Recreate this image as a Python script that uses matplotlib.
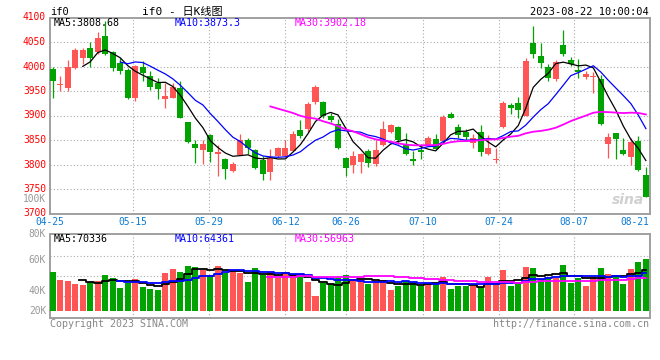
import matplotlib
matplotlib.use('Agg')
import matplotlib.pyplot as plt
import matplotlib.transforms as mtransforms
import numpy as np
import pandas as pd

# ---------------- data ----------------
opens = [3994.2, 3961.6, 3956.8, 3997.6, 4016.7, 4038.4, 4028.9, 4062.2, 4030.3, 4007.1,
         3992.2, 3936.4, 3999.7, 3980.6, 3967.0, 3933.7, 3936.4, 3956.8, 3886.7, 3841.2,
         3829.0, 3860.2, 3820.7, 3811.2, 3786.7, 3819.4, 3850.7, 3830.3, 3808.5, 3785.4,
         3817.3, 3818.0, 3827.6, 3871.1, 3871.8, 3928.2, 3928.2, 3899.7, 3883.3, 3814.0,
         3798.3, 3805.8, 3827.6, 3800.3, 3839.1, 3867.0, 3877.2, 3839.8, 3811.9, 3829.0,
         3839.1, 3852.0, 3848.0, 3903.7, 3877.2, 3867.0, 3843.9, 3867.0, 3822.1, 3808.5,
         3876.5, 3920.7, 3926.2, 3899.0, 4048.6, 4022.1, 3999.0, 3973.8, 4043.9, 4013.3,
         3992.2, 3978.6, 3979.3, 3973.8, 3841.2, 3865.0, 3829.6, 3815.3, 3848.0, 3778.6]
highs = [3999.0, 3980.6, 4012.6, 4038.4, 4037.0, 4050.0, 4071.0, 4092.0, 4031.6, 4018.0,
         3997.6, 4002.4, 4011.2, 3990.8, 3977.2, 3967.0, 3967.0, 3970.4, 3887.0, 3849.3,
         3850.7, 3861.6, 3839.8, 3812.6, 3805.8, 3861.6, 3853.4, 3831.0, 3817.3, 3832.3,
         3836.4, 3850.0, 3868.4, 3890.1, 3928.2, 3961.6, 3929.0, 3905.8, 3892.2, 3814.5,
         3827.6, 3824.2, 3831.0, 3849.3, 3888.8, 3883.3, 3878.6, 3865.0, 3827.6, 3842.5,
         3858.2, 3862.9, 3901.0, 3907.8, 3882.0, 3871.8, 3862.9, 3880.6, 3860.2, 3834.4,
         3929.6, 3924.8, 3938.4, 4018.0, 4083.3, 4048.6, 4004.4, 4012.6, 4073.8, 4019.4,
         4015.3, 3990.8, 3988.8, 3982.7, 3865.0, 3865.0, 3854.8, 3854.8, 3858.2, 3795.0]
lows = [3935.0, 3950.0, 3950.0, 3995.0, 4004.4, 3999.0, 4026.0, 4023.5, 3990.8, 3985.4,
        3934.4, 3929.6, 3970.4, 3952.0, 3933.0, 3914.6, 3935.0, 3894.2, 3843.2, 3802.4,
        3800.3, 3805.8, 3776.5, 3769.7, 3784.7, 3819.0, 3820.7, 3790.0, 3767.7, 3767.7,
        3815.3, 3815.3, 3827.0, 3854.8, 3867.0, 3924.0, 3895.6, 3887.4, 3832.0, 3776.5,
        3782.0, 3782.0, 3795.6, 3796.3, 3837.0, 3863.6, 3842.5, 3820.0, 3799.0, 3810.5,
        3837.0, 3830.3, 3846.6, 3894.0, 3854.8, 3850.0, 3833.0, 3817.3, 3818.7, 3802.4,
        3875.0, 3902.4, 3894.2, 3898.0, 4016.7, 3997.6, 3970.4, 3970.4, 4021.4, 4001.0,
        3977.2, 3973.8, 3945.2, 3880.6, 3814.0, 3810.5, 3819.4, 3799.0, 3787.0, 3733.0]
closes = [3970.4, 3964.3, 3999.0, 4033.0, 4034.4, 4016.7, 4058.8, 4026.2, 3996.3, 3990.8,
          3936.4, 4001.7, 3986.0, 3958.8, 3953.4, 3939.1, 3958.8, 3895.6, 3846.6, 3833.0,
          3842.5, 3824.8, 3826.2, 3790.1, 3800.3, 3849.3, 3833.0, 3793.5, 3781.3, 3814.0,
          3834.4, 3834.4, 3862.9, 3858.8, 3924.1, 3958.8, 3898.3, 3891.5, 3833.0, 3792.2,
          3818.0, 3822.1, 3803.1, 3829.0, 3873.1, 3880.6, 3849.3, 3820.7, 3807.1, 3824.8,
          3854.8, 3831.6, 3897.6, 3894.2, 3860.2, 3856.1, 3853.4, 3824.8, 3834.4, 3811.2,
          3926.2, 3914.6, 3910.5, 4011.2, 4024.8, 4007.8, 3975.9, 4009.9, 4026.2, 4005.8,
          3988.8, 3984.0, 3981.3, 3882.0, 3856.1, 3851.4, 3820.7, 3846.6, 3788.1, 3733.7]
# volume in thousands of lots
volumes = [66.7, 53.0, 51.3, 46.2, 44.5, 49.6, 51.3, 61.6, 56.4, 39.3,
           47.9, 54.7, 41.0, 37.6, 35.9, 65.0, 71.8, 66.7, 77.0, 75.2,
           70.1, 62.0, 77.0, 65.5, 70.1, 65.0, 49.6, 73.5, 61.6, 66.7,
           56.4, 65.0, 61.6, 59.9, 49.6, 25.7, 47.9, 46.2, 56.4, 61.6,
           53.0, 53.0, 46.2, 51.3, 53.0, 35.9, 42.8, 51.3, 49.6, 42.8,
           47.9, 47.9, 58.1, 37.6, 42.8, 42.8, 42.8, 41.0, 58.1, 44.5,
           70.1, 42.8, 49.6, 75.2, 73.5, 54.7, 58.1, 56.4, 78.7, 47.9,
           56.4, 42.8, 58.1, 73.5, 63.3, 59.9, 46.2, 71.8, 83.8, 88.9]
date_labels = ['04-25', '05-15', '05-29', '06-12', '06-26', '07-10', '07-24', '08-07', '08-21']
price_ticks = [3700, 3750, 3800, 3850, 3900, 3950, 4000, 4050, 4100]
vol_labels = ['100K', '80K', '60K', '40K', '20K']

# ---------------- layout / style ----------------
W, H = 660, 360
RED = '#FF5555'
GREEN = '#00A300'
GRID = '#ababab'
SPINE = '#a0a0a0'
MONO = ['DejaVu Sans Mono', 'Noto Sans CJK SC']
plt.rcParams['font.family'] = MONO
FS = 6.9

date_pos = [-0.36, 10.7, 20.8, 31.0, 39.0, 49.3, 59.4, 69.4, 77.5]

fig = plt.figure(figsize=(W / 100, H / 100), dpi=100)
fig.patch.set_facecolor('white')


def rect(x0, y0, x1, y1):
    return [x0 / W, 1 - y1 / H, (x1 - x0) / W, (y1 - y0) / H]


def ftext(x, y, s, **kw):
    return fig.text(x / W, 1 - y / H, s, **kw)


ax = fig.add_axes(rect(50, 17.5, 650, 213.5))
axv = fig.add_axes(rect(50, 234, 650, 318))

o = np.array(opens); h = np.array(highs); l = np.array(lows); c = np.array(closes)
v = np.array(volumes)
idx = np.arange(len(o))
up = c >= o
cols = np.where(up, RED, GREEN)

# ---- price panel ----
ax.vlines(idx, l, h, colors=cols, linewidth=0.9, zorder=3)
body_bot = np.minimum(o, c)
body_h = np.maximum(np.abs(c - o), 1.6)
ax.bar(idx, body_h, bottom=body_bot, width=0.8, color=cols, linewidth=0, zorder=4)

cs = pd.Series(c)
ax.plot(idx, cs.rolling(5).mean(), color='black', lw=0.9, zorder=5)
ax.plot(idx, cs.rolling(10).mean(), color='#0000FF', lw=0.9, zorder=5)
ax.plot(idx, cs.rolling(30).mean(), color='#FF00FF', lw=1.3, zorder=5)

xl = (-0.36, 79.55)
ax.set_xlim(*xl)
ax.set_ylim(3700, 4100)
ax.set_yticks(price_ticks)
ax.set_yticklabels([str(t) for t in price_ticks], color='#FF0000', fontsize=FS)
for k, lab in enumerate(ax.get_yticklabels()):
    lab.set_verticalalignment('center')
    dy = 3.0 if k == 0 else 1.5
    lab.set_transform(lab.get_transform() +
                      mtransforms.ScaledTranslation(0, dy / 100, fig.dpi_scale_trans))
for t in price_ticks[1:-1]:
    ax.axhline(t, color=GRID, lw=0.8, ls=(0, (1, 2)), zorder=1)
for p in date_pos[1:-1]:
    ax.axvline(p, color=GRID, lw=0.8, ls=(0, (1, 2)), zorder=1)
ax.set_xticks(date_pos)
ax.set_xticklabels(date_labels, color='#0A7BD6', fontsize=FS)
ax.tick_params(axis='both', length=0)
ax.tick_params(axis='y', pad=3)
ax.tick_params(axis='x', pad=2.6)
for s in ax.spines.values():
    s.set_color(SPINE)
    s.set_linewidth(1.4)

# ---- volume panel ----
axv.bar(idx, v, width=0.8, color=cols, linewidth=0, zorder=3)
vs = pd.Series(v)
axv.plot(idx, vs.rolling(5).mean(), color='black', lw=1.3, drawstyle='steps-mid', zorder=5)
axv.plot(idx, vs.rolling(10).mean(), color='#0000FF', lw=1.3, drawstyle='steps-mid', zorder=5)
axv.plot(idx, vs.rolling(30).mean(), color='#FF00FF', lw=1.3, drawstyle='steps-mid', zorder=5)
axv.set_xlim(*xl)
axv.set_ylim(-12, 131.7)
for t in [25.7, 59.9, 94.1]:
    axv.axhline(t, color=GRID, lw=0.8, ls=(0, (1, 2)), zorder=1)
for p in date_pos[1:-1]:
    axv.axvline(p, color=GRID, lw=0.8, ls=(0, (1, 2)), zorder=1)
axv.set_xticks([]); axv.set_yticks([])
for s in axv.spines.values():
    s.set_color(SPINE)
    s.set_linewidth(1.4)

# ---- texts ----
ftext(50, 12, 'if0', fontsize=7.5, ha='left', va='center')
ftext(142, 12, 'if0 - 日K线图', fontsize=8, ha='left', va='center')
ftext(649, 12, '2023-08-22 10:00:04', fontsize=7.5, ha='right', va='center')
ftext(54, 23.5, 'MA5:3808.68', fontsize=7.2, ha='left', va='center', color='black')
ftext(175, 23.5, 'MA10:3873.3', fontsize=7.2, ha='left', va='center', color='#0000FF')
ftext(295, 23.5, 'MA30:3902.18', fontsize=7.2, ha='left', va='center', color='#FF00FF')
ftext(54, 239, 'MA5:70336', fontsize=7.2, ha='left', va='center', color='black')
ftext(175, 239, 'MA10:64361', fontsize=7.2, ha='left', va='center', color='#0000FF')
ftext(295, 239, 'MA30:56963', fontsize=7.2, ha='left', va='center', color='#FF00FF')
for lab, y in zip(vol_labels, [198.5, 234, 260, 291, 311]):
    ftext(46, y, lab, fontsize=FS, ha='right', va='center', color='#999999')
ftext(50, 324, 'Copyright 2023 SINA.COM', fontsize=7.2, ha='left', va='center', color='#888888')
ftext(649, 324, 'http://finance.sina.com.cn', fontsize=7.2, ha='right', va='center', color='#888888')
ftext(628, 200, 'sina', fontsize=10, ha='center', va='center', color='#d0d0d0',
      style='italic', weight='bold', family='DejaVu Sans', zorder=0)

fig.savefig('out.png', dpi=100, facecolor='white')
